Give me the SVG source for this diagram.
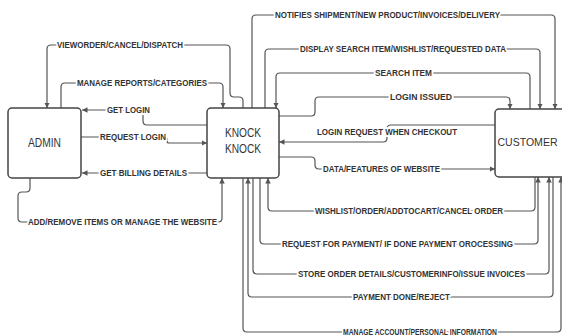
<svg xmlns="http://www.w3.org/2000/svg" width="562" height="336" viewBox="0 0 562 336">
<style>
.box{fill:#fff;stroke:#444;stroke-width:1.5}
.bl{font-family:"Liberation Sans",Arial,sans-serif;font-size:12px;fill:#333;text-anchor:middle}
.ln{fill:none;stroke:#555;stroke-width:1.2;marker-end:url(#ah)}
.lb{font-family:"Liberation Sans",Arial,sans-serif;font-size:9.2px;font-weight:bold;fill:#333;paint-order:stroke;stroke:#fff;stroke-width:4px;stroke-linejoin:round}
</style>
<defs>
<marker id="ah" viewBox="0 0 10 10" refX="10" refY="5" markerWidth="5.5" markerHeight="5.5" markerUnits="userSpaceOnUse" orient="auto">
<path d="M0,0 L10,5 L0,10 z" fill="#555"/>
</marker>
</defs>
<rect width="562" height="336" fill="#fff"/>
<g id="connectors">
<path class="ln" d="M243,108 V101 Q243,97 239,97 H234 Q230,97 230,93 V49 Q230,45 226,45 H51 Q47,45 47,49 V108"/>
<path class="ln" d="M61,108 V87 Q61,83 65,83 H219 Q223,83 223,87 V108"/>
<path class="ln" d="M207,125 H147 Q143,125 143,121 V110 H82"/>
<path class="ln" d="M81,137 H165 Q167,137 167,139 V141 Q167,143 169,143 H207"/>
<path class="ln" d="M207,173 H82"/>
<path class="ln" d="M30,178 V188 Q30,192 26,192 H22 Q18,192 18,196 V218 Q18,222 22,222 H218 Q222,222 222,218 V178"/>
<path class="ln" d="M252,108 V19 Q252,15 256,15 H551 Q555,15 555,19 V109"/>
<path class="ln" d="M265,108 V53 Q265,49 269,49 H536 Q540,49 540,53 V109"/>
<path class="ln" d="M530,109 V77 Q530,73 526,73 H280 Q276,73 276,77 V108"/>
<path class="ln" d="M279,116 H311 Q315,116 315,112 V101 Q315,97 319,97 H506 Q510,97 510,101 V109"/>
<path class="ln" d="M495,125 H391 Q387,125 387,129 V138 Q387,142 383,142 H279"/>
<path class="ln" d="M279,157 H311 Q315,157 315,161 V165 Q315,169 319,169 H495"/>
<path class="ln" d="M535,177 V207 Q535,211 531,211 H272 Q268,211 268,207 V178"/>
<path class="ln" d="M260,178 V240 Q260,244 264,244 H534 Q538,244 538,240 V177"/>
<path class="ln" d="M253,178 V270 Q253,274 257,274 H545 Q549,274 549,270 V177"/>
<path class="ln" d="M553,177 V293 Q553,297 549,297 H252 Q248,297 248,293 V178"/>
<path class="ln" d="M243,178 V328 Q243,332 247,332 H557 Q561,332 561,328 V177"/>
</g>
<g id="labels">
<text class="lb" x="57" y="48.3" textLength="126" lengthAdjust="spacingAndGlyphs">VIEWORDER/CANCEL/DISPATCH</text>
<text class="lb" x="77" y="86.3" textLength="130" lengthAdjust="spacingAndGlyphs">MANAGE REPORTS/CATEGORIES</text>
<text class="lb" x="107" y="113.3" textLength="43" lengthAdjust="spacingAndGlyphs">GET LOGIN</text>
<text class="lb" x="100" y="140.3" textLength="66" lengthAdjust="spacingAndGlyphs">REQUEST LOGIN</text>
<text class="lb" x="100" y="176.3" textLength="87" lengthAdjust="spacingAndGlyphs">GET BILLING DETAILS</text>
<text class="lb" x="28" y="225.3" textLength="189" lengthAdjust="spacingAndGlyphs">ADD/REMOVE ITEMS OR MANAGE THE WEBSITE</text>
<text class="lb" x="275" y="18.3" textLength="225" lengthAdjust="spacingAndGlyphs">NOTIFIES SHIPMENT/NEW PRODUCT/INVOICES/DELIVERY</text>
<text class="lb" x="300" y="52.3" textLength="206" lengthAdjust="spacingAndGlyphs">DISPLAY SEARCH ITEM/WISHLIST/REQUESTED DATA</text>
<text class="lb" x="375" y="76.3" textLength="57" lengthAdjust="spacingAndGlyphs">SEARCH ITEM</text>
<text class="lb" x="390" y="100.3" textLength="62" lengthAdjust="spacingAndGlyphs">LOGIN ISSUED</text>
<text class="lb" x="317" y="135.3" textLength="140" lengthAdjust="spacingAndGlyphs">LOGIN REQUEST WHEN CHECKOUT</text>
<text class="lb" x="323" y="172.3" textLength="117" lengthAdjust="spacingAndGlyphs">DATA/FEATURES OF WEBSITE</text>
<text class="lb" x="315" y="214.3" textLength="188" lengthAdjust="spacingAndGlyphs">WISHLIST/ORDER/ADDTOCART/CANCEL ORDER</text>
<text class="lb" x="282" y="247.3" textLength="231" lengthAdjust="spacingAndGlyphs">REQUEST FOR PAYMENT/ IF DONE PAYMENT OROCESSING</text>
<text class="lb" x="298" y="277.3" textLength="227" lengthAdjust="spacingAndGlyphs">STORE ORDER DETAILS/CUSTOMERINFO/ISSUE INVOICES</text>
<text class="lb" x="353" y="300.3" textLength="97" lengthAdjust="spacingAndGlyphs">PAYMENT DONE/REJECT</text>
<text class="lb" x="343" y="335.3" textLength="154" lengthAdjust="spacingAndGlyphs">MANAGE ACCOUNT/PERSONAL INFORMATION</text>
</g>
<g id="admin">
<rect class="box" x="8" y="108" width="73" height="70" rx="4"/>
<text class="bl" x="44.5" y="147" textLength="33" lengthAdjust="spacingAndGlyphs">ADMIN</text>
</g>
<g id="knock">
<rect class="box" x="207" y="108" width="72" height="70" rx="4"/>
<text class="bl" x="243" y="137" textLength="36" lengthAdjust="spacingAndGlyphs">KNOCK</text>
<text class="bl" x="243" y="153" textLength="36" lengthAdjust="spacingAndGlyphs">KNOCK</text>
</g>
<g id="customer">
<rect class="box" x="495" y="109" width="90" height="68" rx="4"/>
<text class="bl" x="527.5" y="146" style="font-size:11px" textLength="60" lengthAdjust="spacingAndGlyphs">CUSTOMER</text>
</g>
</svg>
